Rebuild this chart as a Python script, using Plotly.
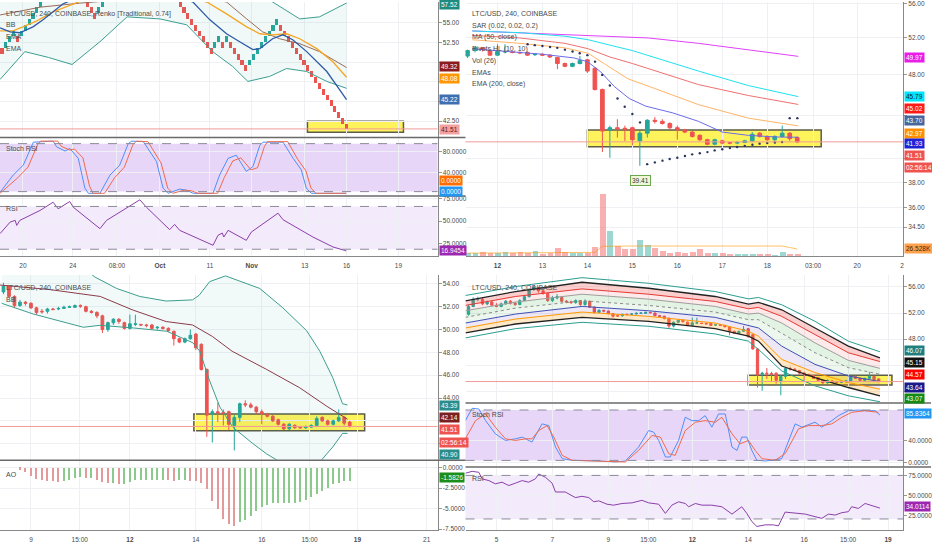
import plotly.graph_objects as go

W, H = 932, 550

# LTC/USD 4h candles (Coinbase), x = day of November
day = [4 + i / 6 for i in range(89)]
opn = [51.8, 53.0, 54.1, 54.1, 53.4, 53.7, 53.2, 53.0, 53.4, 53.8, 53.5, 53.3, 53.9, 54.5, 55.6, 55.9, 55.4, 55.0, 53.9, 54.3, 54.4, 53.8, 53.7, 53.6, 53.9,
       53.3, 53.8, 52.9, 52.1, 52.4, 52.3, 51.9, 51.6, 51.6, 51.8, 51.8, 51.85, 51.95, 51.95, 52.1, 52.0, 51.6, 51.5, 51.2, 50.0, 50.6, 50.9, 50.6, 50.1,
       50.45, 50.45, 50.4, 50.4, 50.15, 50.2, 50.1, 49.85, 49.2, 48.9, 49.2, 49.6, 48.7, 46.5, 42.6, 42.8, 42.75, 42.8, 41.6, 42.3, 43.5, 43.4, 43.2, 42.8,
       42.6, 42.4, 42.1, 41.7, 41.3, 41.6, 41.45, 41.4, 41.45, 41.6, 42.3, 42.0, 41.7, 42.0, 42.3, 41.9]
close = [53.0, 54.1, 54.2, 53.4, 53.7, 53.2, 53.0, 53.4, 53.8, 53.5, 53.3, 53.9, 54.5, 55.6, 55.9, 55.4, 55.0, 53.9, 54.3, 54.5, 53.8, 53.7, 53.6, 53.9, 53.3,
         53.8, 52.9, 52.1, 52.4, 52.3, 51.9, 51.5, 51.55, 51.8, 51.75, 51.85, 51.95, 52.0, 52.1, 52.05, 51.6, 51.5, 51.2, 50.0, 50.6, 50.9, 50.7, 50.1,
         50.5, 50.5, 50.4, 50.35, 50.1, 50.2, 50.1, 49.9, 49.2, 48.9, 49.2, 49.5, 48.4, 46.5, 42.5, 42.8, 42.7, 42.65, 41.7, 42.3, 43.5, 43.4, 43.2, 42.8,
         42.6, 42.4, 42.0, 41.7, 41.3, 41.7, 41.4, 41.4, 41.45, 41.6, 42.2, 42.0, 41.7, 42.0, 42.3, 41.8, 41.51]
high = [53.3, 54.4, 54.5, 54.3, 53.9, 53.9, 53.5, 53.6, 54.0, 54.0, 53.7, 54.1, 54.7, 55.8, 56.3, 56.0, 55.6, 55.1, 54.6, 54.9, 54.6, 54.0, 53.9, 54.1, 54.0,
        54.1, 53.9, 53.0, 52.6, 52.5, 52.4, 52.0, 51.8, 51.9, 51.9, 52.0, 52.1, 52.1, 52.2, 52.2, 52.1, 51.7, 51.6, 51.3, 50.7, 51.0, 51.0, 50.7, 51.3,
        51.3, 50.5, 50.5, 50.5, 50.3, 50.3, 50.2, 49.9, 49.3, 49.3, 50.0, 49.7, 48.8, 46.6, 43.0, 43.6, 43.0, 42.9, 42.5, 43.6, 43.8, 43.6, 43.3, 43.0,
        42.7, 42.5, 42.2, 41.8, 41.8, 41.7, 41.5, 41.6, 41.7, 42.4, 42.4, 42.1, 42.1, 43.0, 42.4, 42.0]
low = [51.6, 52.9, 53.8, 53.2, 53.2, 53.0, 52.9, 52.9, 53.3, 53.3, 53.1, 53.2, 53.8, 54.4, 55.4, 55.1, 54.8, 53.7, 53.7, 54.1, 53.6, 53.5, 53.4, 53.4, 53.1,
       53.1, 52.8, 51.9, 52.0, 52.1, 51.8, 51.3, 51.4, 51.4, 51.7, 51.7, 51.8, 51.9, 51.9, 51.9, 51.5, 51.4, 51.0, 49.7, 49.8, 50.4, 50.5, 50.0, 50.0,
       50.3, 50.3, 50.2, 50.0, 50.0, 50.0, 49.8, 48.6, 48.8, 48.8, 49.1, 48.2, 46.4, 40.6, 40.1, 41.9, 41.6, 41.2, 39.41, 41.9, 43.2, 43.1, 42.6, 41.7,
       42.3, 41.9, 41.6, 41.2, 41.2, 41.3, 41.3, 41.3, 41.4, 41.5, 41.9, 41.6, 41.6, 41.9, 41.6, 41.4]

# volume (K) and its 26-period MA, candles from index 44 on
vol_k = [8, 8, 10, 8, 8, 10, 8, 10, 8, 13, 5, 8, 21, 11, 8, 8, 8, 24, 167, 66, 28, 18, 18, 44, 29, 22, 13, 9, 11, 9, 11, 18, 9, 8, 8, 5, 7, 7, 7, 7,
         5, 4, 11, 7, 5]
vol_ma = [8] * 17 + [10, 26] + [27] * 24 + [23, 19]

# Renko (Traditional, box 0.74): bottom of each brick and its direction
renko_low = [51.06, 51.80, 52.54, 53.28, 52.54, 53.28, 54.02, 54.76, 55.50, 56.24, 56.98,
             57.72, 58.46, 59.20, 59.94, 59.20, 59.94, 60.68, 59.94, 59.20, 58.46, 57.72,
             56.98, 56.24, 55.50, 56.24, 56.98,
             57.72, 58.46, 59.20, 59.94, 60.68, 61.42, 62.16, 61.42, 60.68, 61.42, 62.16, 62.90, 62.16, 61.42, 60.68, 59.94, 59.20, 58.46, 57.72,
             56.98, 56.24, 55.50, 54.76, 54.02, 53.28, 52.54, 51.80, 51.06,
             51.80, 52.54, 51.80, 52.54,
             51.80, 51.06, 50.32, 49.58, 48.84,
             49.58, 50.32, 51.06, 51.80, 52.54, 53.28, 54.02, 54.76,
             54.02, 53.28, 52.54, 51.80, 51.06, 50.32, 49.58, 48.84, 48.10, 47.36, 46.62, 45.88, 45.14, 44.40, 43.66, 42.92, 42.18, 41.44]
renko_dir = list("duuuduuuuuu" "uuuuduudddd" "ddduu" "uuuuuuudduuuddddddd" "ddddddddd" "uudu" "ddddd" "uuuuuuuu" "dddddddddddddddddd")
BOX = 0.74

# Renko panel indicator lines (x = brick number)
tl_blue_x = [-0.5, 2.1, 4.6, 8.0, 10.6, 14.2, 15.7, 30, 49.3, 53.7, 58.0, 61.4, 64.8, 66.6, 69.9, 72.5, 75.1, 78.7, 83.9, 89]
tl_blue_y = [54.37, 53.86, 53.74, 54.49, 55.38, 56.77, 57.4, 60.5, 57.65, 55.38, 53.61, 52.6, 51.59, 51.72, 52.98, 53.48, 52.85, 51.34, 48.81, 45.22]
tl_orange_x = [-0.5, 2.8, 5.4, 9.0, 13.2, 18.3, 32, 52.9, 58.0, 63.2, 66.6, 69.9, 73.5, 76.9, 81.3, 85.4, 89]
tl_orange_y = [53.99, 53.99, 54.49, 55.25, 56.39, 57.4, 60.0, 57.65, 56.14, 54.49, 53.61, 53.48, 53.61, 52.98, 51.72, 50.08, 48.08]
tl_brown_x = [-0.5, 10, 20, 25, 38, 58.0, 63.2, 67.3, 71.7, 76.9, 82.0, 89]
tl_brown_y = [56.0, 57.0, 57.5, 57.7, 59.5, 57.65, 55.5, 53.86, 52.98, 52.35, 51.34, 49.32]
tl_bbu_x = [-0.5, 20, 50, 65, 69.9, 76.9, 82.0, 89]
tl_bbu_y = [58.6, 62.0, 63.0, 59.5, 57.65, 55.5, 55.76, 57.52]
tl_bbl_x = [-0.5, 5.9, 12, 18.1, 25.3, 32.3, 40.8, 47.7, 54.4, 59.6, 63.5, 69.1, 73.5, 78.7, 83.9, 89]
tl_bbl_y = [47.8, 51.34, 50.6, 49.7, 52.6, 55.76, 55.5, 54.75, 51.34, 49.44, 47.55, 48.18, 49.19, 48.81, 47.55, 46.67]

tl_k_x = [-0.5, 2.9, 5.5, 8.1, 13.2, 14.1, 16.3, 17.5, 19.7, 21.4, 22.3, 25.3, 27.9, 30.4, 32.6, 33.5, 36.5, 39.9, 41.6, 42.9, 45.9, 47.6,
          49.4, 54.5, 56.2, 58.4, 60.5, 63.1, 64.8, 66.6, 67.4, 72.6, 75.2, 77.3, 78.6, 79.9, 88.9]
tl_k_y = [2, 35, 54, 98, 100, 89, 81, 86, 67, 10, 0, 0, 35, 54, 95, 100, 99, 61, 10, 0, 8, 6, 0, 0, 35, 67, 73, 42, 51, 92, 98, 98, 67, 45, 10, 0, 0]
tl_d_x = [-0.5, 4.1, 6.7, 9.3, 10.0, 14.4, 15.3, 17.5, 18.7, 20.9, 22.6, 23.5, 26.5, 29.1, 31.6, 33.8, 34.7, 37.7, 41.1, 42.8, 44.1, 47.1,
          48.8, 50.6, 55.7, 57.4, 59.6, 61.7, 64.3, 66.0, 67.8, 68.6, 73.8, 76.4, 78.5, 79.8, 81.1, 88.9]
tl_d_y = [0, 30, 50, 95, 100, 100, 90, 83, 85, 68, 14, 0, 0, 30, 50, 93, 100, 99, 58, 10, 0, 6, 5, 0, 0, 30, 62, 68, 45, 49, 90, 99, 99, 65,
          43, 10, 0, 0]
tl_rsi_x = [-0.5, 2.1, 3.4, 3.8, 4.6, 9.8, 13.2, 14.5, 17.5, 18.4, 25.3, 27.0, 35.6, 37.3, 43.3, 44.6, 45.9, 54.5, 55.8, 56.9, 57.3, 58.4,
            63.1, 64.4, 71.3, 72.6, 80.3, 85.5, 88.9]
tl_rsi_y = [36.1, 48.9, 50.8, 45.2, 50.8, 61.8, 71.0, 63.7, 71.8, 65.5, 41.6, 50.8, 73.7, 65.5, 40.5, 46.3, 39.7, 23.1, 34.2, 36.7, 32.3, 39.7,
            28.6, 37.8, 58.8, 51.5, 32.3, 21.2, 16.9]

# top right overlays
tr_magenta_x = [11.44, 14.02, 15.36, 16.47, 17.58, 18.69]
tr_magenta_y = [52.8, 52.3, 52.0, 51.4, 50.7, 49.97]
tr_cyan_x = [11.44, 12.5, 13.5, 14.02, 14.5, 15.0, 16.47, 17.58, 18.69]
tr_cyan_y = [52.8, 52.6, 52.2, 51.8, 51.2, 50.6, 48.4, 46.9, 45.79]
tr_salmon_x = [11.44, 12.5, 13.5, 14.02, 14.5, 15.0, 16.47, 17.58, 18.69]
tr_salmon_y = [52.3, 52.0, 51.4, 50.8, 49.9, 49.2, 47.0, 45.9, 45.02]
tr_orange_x = [11.44, 12.5, 13.5, 14.02, 14.4, 14.9, 15.5, 16.47, 17.58, 18.69]
tr_orange_y = [51.8, 51.4, 50.9, 50.3, 49.1, 47.6, 46.6, 45.0, 43.7, 42.97]
tr_blue_x = [11.44, 12.0, 13.0, 13.7, 14.0, 14.3, 14.6, 14.93, 15.3, 15.9, 16.47, 17.0, 17.58, 18.2, 18.69]
tr_blue_y = [50.8, 50.6, 50.2, 49.8, 49.4, 48.3, 46.8, 45.6, 44.85, 44.2, 43.4, 42.4, 42.1, 41.95, 41.93]
sar_day = [12.67, 12.83, 13.0, 13.17, 13.33, 13.5, 13.67, 13.83, 14.0, 14.17, 14.33, 14.5, 14.67, 14.83, 15.0, 15.17, 15.33, 15.5, 15.67,
           15.83, 16.0, 16.17, 16.33, 16.5, 16.67, 16.83, 17.0, 17.17, 17.33, 17.5, 17.67, 17.83, 18.0, 18.17, 18.33, 18.5, 18.67]
sar_val = [51.3, 51.2, 51.1, 51.0, 50.9, 50.7, 50.5, 50.3, 50.1, 49.4, 48.0, 46.9, 45.6, 44.8, 44.1, 43.3, 39.55, 39.7, 39.85, 40.0, 40.1,
           40.25, 40.4, 40.5, 40.6, 40.75, 40.85, 40.95, 41.05, 41.15, 41.25, 41.35, 41.4, 41.45, 41.5, 43.7, 43.7]

# bottom left: Bollinger Bands and AO
bl_up_x = [8.1, 10.5, 10.94, 11.6, 12.3, 13.1, 13.9, 14.1, 14.42, 14.9, 15.94, 16.64, 17.36, 17.76, 18.15, 18.45, 18.6]
bl_up_y = [57.5, 55.6, 54.6, 53.6, 52.9, 52.5, 52.6, 53.0, 54.2, 54.7, 53.6, 51.9, 49.9, 48.1, 45.8, 43.5, 43.39]
bl_mid_x = [8.06, 9.58, 11.1, 12.1, 13.1, 13.9, 14.5, 15.1, 16.15, 17.15, 17.96, 18.6]
bl_mid_y = [53.9, 53.5, 52.9, 51.7, 50.7, 50.4, 49.4, 48.1, 46.5, 44.9, 43.3, 42.14]
bl_lo_x = [8.11, 9.07, 10.59, 11.09, 12.1, 13.12, 13.91, 14.12, 14.42, 14.73, 15.12, 15.73, 16.15, 16.55, 17.76, 18.15, 18.45, 18.6]
bl_lo_y = [52.3, 51.36, 50.2, 50.37, 50.14, 49.85, 48.84, 48.1, 45.5, 43.2, 41.45, 40.0, 39.1, 38.4, 38.4, 39.7, 40.9, 40.9]
ao = [-0.24, -0.52, -1.03, -1.31, -1.43, -1.55, -1.63, -1.71, -1.55, -1.43, -1.23, -1.15, -1.23, -1.23, -1.43, -1.71, -1.83, -1.83, -1.94,
      -1.94, -1.71, -1.51, -1.43, -1.43, -1.43, -1.43, -1.43, -1.51, -1.55, -1.43, -1.43, -1.55, -1.63, -1.83, -2.62, -4.01, -5.0, -6.19,
      -6.87, -7.06, -6.59, -6.31, -5.91, -5.28, -4.72, -4.48, -4.33, -4.33, -4.33, -4.33, -4.25, -4.13, -3.93, -3.53, -3.21, -2.82, -2.42,
      -2.02, -1.83, -1.63, -1.58]

# bottom right: band lines
br_x = [3.89, 5.68, 8.06, 10.44, 12.82, 14.01, 14.37, 15.2, 16.39, 17.58, 18.71]
br_teal_up = [54.68, 56.05, 57.41, 56.55, 55.29, 54.17, 54.38, 53.26, 50.73, 47.69, 46.07]
br_black_up = [53.87, 55.29, 56.71, 55.79, 54.53, 53.36, 53.62, 52.5, 49.71, 46.93, 45.15]
br_red = [53.16, 54.53, 55.69, 54.88, 53.77, 52.65, 52.86, 51.49, 48.7, 45.92, 44.57]
br_gray = [52.35, 53.67, 54.88, 54.12, 53.01, 51.84, 51.99, 50.47, 47.43, 44.75, 43.53]
br_mid = [51.34, 52.75, 53.87, 53.16, 52.15, 50.98, 50.98, 48.95, 45.92, 43.64, 42.62]
br_blue = [50.47, 51.84, 53.01, 52.35, 51.34, 50.12, 49.71, 46.93, 44.14, 42.37, 41.51]
br_orange = [49.71, 51.08, 52.15, 51.49, 50.47, 49.21, 48.45, 44.9, 42.88, 41.36, 40.34]
br_black_lo = [48.95, 50.32, 51.34, 50.73, 49.61, 48.45, 47.69, 43.89, 42.12, 40.6, 39.33]
br_teal_lo = [48.19, 49.61, 50.58, 49.97, 48.8, 47.69, 46.42, 43.13, 40.85, 39.33, 38.42]

br_k_x = [3.89, 4.13, 4.37, 4.61, 4.96, 5.32, 5.68, 5.92, 6.27, 6.45, 6.63, 6.87, 7.11, 7.35, 7.70, 8.65, 9.25, 9.61, 10.08, 10.44, 10.62,
          10.80, 11.04, 11.21, 11.51, 11.75, 11.99, 12.23, 12.46, 12.70, 12.94, 13.18, 13.42, 13.60, 13.77, 13.95, 14.13, 14.31, 14.61,
          14.85, 15.20, 15.68, 15.92, 16.39, 16.63, 16.99, 17.23, 17.58, 17.94, 18.18, 18.54, 18.71]
br_k_y = [75.8, 98, 96.8, 75.8, 52, 40, 43, 46, 37.1, 55, 69.9, 66.8, 28.1, 7.2, 4.1, 3, 1.2, 3, 28.1, 57.9, 55, 40, 10.2, 10.2, 40, 81.9,
          75.8, 75.8, 84.8, 64, 87.8, 87.8, 28.1, 22, 46, 46, 22, 4.1, 3, 4.1, 7.2, 69.9, 64, 72.9, 64, 75.8, 84.8, 93.7, 95, 93.7, 93.7, 85.8]
br_d_x = [3.89, 4.25, 4.61, 4.96, 5.32, 5.68, 6.04, 6.27, 6.51, 6.81, 7.05, 7.35, 7.70, 9.61, 10.08, 10.56, 10.86, 11.16, 11.39, 11.75,
          12.11, 12.46, 12.82, 13.06, 13.42, 13.71, 14.01, 14.25, 14.49, 14.96, 15.32, 15.80, 16.15, 16.63, 16.99, 17.35, 17.70, 18.18, 18.65]
br_d_y = [43, 75.8, 87.8, 64, 43, 40, 43, 43, 57.9, 66.8, 46, 13.1, 4.1, 1.2, 22, 49, 46, 16.1, 13.1, 57.9, 72.9, 75.8, 72.9, 81.9, 52, 34,
          40, 22, 7.2, 4.1, 16.1, 60.9, 66.8, 66.8, 69.9, 81.9, 90.8, 93.7, 90.8]
br_rsi_x = [3.89, 4.13, 4.37, 4.49, 4.73, 4.96, 5.20, 5.44, 5.68, 5.92, 6.15, 6.39, 6.51, 6.75, 6.99, 7.11, 7.46, 7.58, 7.82, 8.06, 8.30,
            8.48, 8.66, 8.95, 9.19, 9.49, 9.85, 10.2, 10.44, 10.80, 11.04, 11.27, 11.51, 11.75, 11.87, 12.11, 12.35, 12.70, 13.06, 13.42,
            13.77, 13.95, 14.13, 14.31, 14.61, 14.90, 15.08, 15.32, 15.56, 15.80, 16.04, 16.39, 16.63, 16.87, 17.11, 17.35, 17.58, 17.70,
            17.94, 18.18, 18.54, 18.71]
br_rsi_y = [77.7, 80.1, 78.9, 70.6, 68.5, 64.4, 66.5, 62.3, 65.3, 68.5, 66.5, 70.6, 76.8, 72.7, 65.3, 54.2, 54.2, 52.1, 47.2, 48.8, 47.2,
            41.9, 43.1, 38.9, 37.7, 39.8, 40.6, 43.8, 40.6, 38.9, 27.4, 37.7, 41.9, 39.8, 35.7, 39.8, 37.7, 37.7, 35.7, 26.5, 35.7, 27.4,
            17.2, 11.0, 13.0, 13.0, 11.7, 29.0, 28.3, 27.4, 26.5, 23.3, 21.2, 26.5, 25.3, 28.3, 29.5, 35.7, 33.6, 39.8, 36.4, 34.0]

GREEN, RED = "#26a69a", "#ef5350"
GRID = "#eef0f3"
FONT = "Liberation Sans"
TICKFONT = dict(family=FONT, size=6.5, color="#4a4a4a")


def py(p):
    return 1 - p / H


fig = go.Figure()


def line(x, y, ax, color, width=1, **kw):
    fig.add_trace(go.Scatter(x=x, y=y, mode="lines", line=dict(color=color, width=width), xaxis=ax[0], yaxis=ax[1],
                             hoverinfo="skip", **kw))


def candles(ax):
    fig.add_trace(go.Candlestick(x=day, open=opn, high=high, low=low, close=close, xaxis=ax[0], yaxis=ax[1], whiskerwidth=0,
                                 increasing=dict(line=dict(color=GREEN, width=1), fillcolor=GREEN),
                                 decreasing=dict(line=dict(color=RED, width=1), fillcolor=RED), hoverinfo="skip"))


# ---- top left: Renko
TL, TLS, TLR = ("x", "y"), ("x2", "y2"), ("x3", "y3")
line(tl_bbu_x, tl_bbu_y, TL, "#3a9e90")
line(tl_bbl_x, tl_bbl_y, TL, "#3a9e90", fill="tonexty", fillcolor="rgba(38,166,154,0.07)")
fig.add_trace(go.Bar(x=list(range(len(renko_low))), y=[BOX] * len(renko_low), base=renko_low, width=0.8,
                     marker=dict(color=[GREEN if d == "u" else RED for d in renko_dir], line_width=0),
                     xaxis="x", yaxis="y", hoverinfo="skip"))
line(tl_brown_x, tl_brown_y, TL, "#9a6a5a")
line(tl_orange_x, tl_orange_y, TL, "#f5a623", 1.3)
line(tl_blue_x, tl_blue_y, TL, "#2f5aa8", 1.3)
line(tl_k_x, tl_k_y, TLS, "#4f8ff7")
line(tl_d_x, tl_d_y, TLS, "#f06a4a")
line(tl_rsi_x, tl_rsi_y, TLR, "#8b3fa8")

# ---- top right: candles, EMAs, SAR, volume
TR = ("x4", "y4")
fig.add_trace(go.Bar(x=day[44:], y=vol_k, width=0.13, xaxis="x4", yaxis="y10", hoverinfo="skip",
                     marker=dict(color=["rgba(38,166,154,0.45)" if c >= o else "rgba(239,83,80,0.45)"
                                        for o, c in zip(opn[44:], close[44:])], line_width=0)))
line(day[44:], vol_ma, ("x4", "y10"), "rgba(255,152,0,0.6)")
line(tr_magenta_x, tr_magenta_y, TR, "#e040fb")
line(tr_cyan_x, tr_cyan_y, TR, "#1fe0f0")
line(tr_salmon_x, tr_salmon_y, TR, "#f07070")
line(tr_orange_x, tr_orange_y, TR, "#ffb466")
line(tr_blue_x, tr_blue_y, TR, "#6b6bea")
candles(TR)
fig.add_trace(go.Scatter(x=sar_day, y=sar_val, mode="markers", marker=dict(size=2.4, color="#2a3560"),
                         xaxis="x4", yaxis="y4", hoverinfo="skip"))

# ---- bottom left: BB + AO
BL, BLA = ("x5", "y5"), ("x6", "y6")
line(bl_up_x, bl_up_y, BL, "#3c9e8e")
line(bl_lo_x, bl_lo_y, BL, "#3c9e8e", fill="tonexty", fillcolor="rgba(38,166,154,0.06)")
line(bl_mid_x, bl_mid_y, BL, "#8b3a4a")
candles(BL)
fig.add_trace(go.Bar(x=day[28:], y=ao, width=0.035, xaxis="x6", yaxis="y6", hoverinfo="skip",
                     marker=dict(color=["#8cc98c" if i > 0 and v >= ao[i - 1] else "#e49a9a" for i, v in enumerate(ao)],
                                 line_width=0)))

# ---- bottom right: bands + Stoch RSI + RSI
BR, BRS, BRR = ("x7", "y7"), ("x8", "y8"), ("x9", "y9")
line(br_x, br_black_up, BR, "#222222", 1.3)
line(br_x, br_red, BR, "#e53935", 1, fill="tonexty", fillcolor="rgba(239,83,80,0.28)")
line(br_x, br_gray, BR, "#9e9e9e", 1, fill="tonexty", fillcolor="rgba(239,83,80,0.12)")
line(br_x, br_mid, BR, "rgba(0,0,0,0)", 1, fill="tonexty", fillcolor="rgba(76,175,80,0.16)")
line(br_x, br_blue, BR, "#3f51b5", 1, fill="tonexty", fillcolor="rgba(76,175,80,0.10)")
line(br_x, br_orange, BR, "#ff9800", 1, fill="tonexty", fillcolor="rgba(103,58,183,0.12)")
line(br_x, br_black_lo, BR, "#222222", 1.3, fill="tonexty", fillcolor="rgba(255,152,0,0.22)")
line(br_x, br_teal_up, BR, "#2a9d8f")
line(br_x, br_teal_lo, BR, "#2a9d8f")
fig.add_trace(go.Scatter(x=br_x, y=br_mid, mode="lines", line=dict(color="#8a8a8a", width=1, dash="dot"),
                         xaxis="x7", yaxis="y7", hoverinfo="skip"))
candles(BR)
line(br_k_x, br_k_y, BRS, "#4f8ff7")
line(br_d_x, br_d_y, BRS, "#f06a4a")
line(br_rsi_x, br_rsi_y, BRR, "#8b3fa8")

# ---- axes
LX, RX = [0, 438 / W], [466 / W, 904 / W]


def xax(domain, anchor, rng, vals, text, labels):
    return dict(domain=domain, anchor=anchor, range=rng, tickmode="array", tickvals=vals, ticktext=text,
                showticklabels=labels, showgrid=True, gridcolor=GRID, zeroline=False, ticks="outside" if labels else "",
                ticklen=3, tickcolor="rgba(0,0,0,0)", tickfont=TICKFONT, showline=labels, linecolor="#888",
                rangeslider=dict(visible=False), fixedrange=True)


def yax(domain, anchor, rng, vals, text, typ="linear", grid=True):
    return dict(domain=domain, anchor=anchor, side="right", range=rng, type=typ, tickmode="array", tickvals=vals,
                ticktext=text, showgrid=grid, gridcolor=GRID, zeroline=False, ticks="outside", ticklen=3,
                tickcolor="#999", tickfont=TICKFONT, showline=True, linecolor="#888", fixedrange=True)


tl_tv = [5.4, 18.3, 29.7, 40.8, 53.7, 64.5, 78.2, 89.0, 102.4]
tl_tt = ["20", "24", "08:00", "<b>Oct</b>", "11", "<b>Nov</b>", "13", "16", "19"]
tr_tv = [12, 13, 14, 15, 16, 17, 18, 19.02, 20, 21]
tr_tt = ["<b>12</b>", "13", "14", "15", "16", "17", "18", "03:00", "20", "2"]
bl_tv = [9, 10.48, 12, 14, 16, 17.45, 18.9, 21]
bl_tt = ["9", "15:00", "<b>12</b>", "14", "16", "15:00", "<b>19</b>", "21"]
br_tv = [5, 7, 9, 10.43, 12, 14, 16, 17.57, 19]
br_tt = ["5", "7", "9", "15:00", "<b>12</b>", "14", "16", "15:00", "<b>19</b>"]

tl_rng, tr_rng, bl_rng, br_rng = [-0.52, 112.5], [11.289, 21.02], [8.061, 21.33], [3.893, 19.536]

# tick labels that sit under a value tag keep their grid line but no text
fig.update_layout(
    xaxis=xax(LX, "y", tl_rng, tl_tv, tl_tt, False),
    xaxis2=xax(LX, "y2", tl_rng, tl_tv, tl_tt, False),
    xaxis3=xax(LX, "y3", tl_rng, tl_tv, tl_tt, True),
    xaxis4=xax(RX, "y4", tr_rng, tr_tv, tr_tt, True),
    xaxis5=xax(LX, "y5", bl_rng, bl_tv, bl_tt, False),
    xaxis6=xax(LX, "y6", bl_rng, bl_tv, bl_tt, True),
    xaxis7=xax(RX, "y7", br_rng, br_tv, br_tt, False),
    xaxis8=xax(RX, "y8", br_rng, br_tv, br_tt, False),
    xaxis9=xax(RX, "y9", br_rng, br_tv, br_tt, True),
    yaxis=yax([py(136), 1], "x", [40.48, 57.65], [55, 52.5, 50, 47.5, 45, 42.5],
              ["55.00", "52.50", "", "", "", "42.50"]),
    yaxis2=yax([py(195), py(137)], "x2", [-4.4, 106], [80, 40], ["80.0000", "40.0000"]),
    yaxis3=yax([py(256), py(196)], "x3", [11.0, 77.3], [75, 50, 25], ["75.0000", "50.0000", "25.0000"]),
    yaxis4=yax([py(256), 1], "x4", [1.5105, 1.7499], [56, 52, 48, 44, 40, 38, 36, 34.5],
               ["56.00", "52.00", "48.00", "", "", "38.00", "36.00", "34.50"], typ="log"),
    yaxis10=dict(overlaying="y4", anchor="x4", range=[0, 678], visible=False, fixedrange=True),
    yaxis5=yax([py(461), py(275)], "x5", [38.6, 54.78], [54, 52, 50, 48, 46, 44, 42, 40],
               ["54.00", "52.00", "50.00", "48.00", "46.00", "44.00", "", ""]),
    yaxis6=yax([py(532), py(462)], "x6", [-7.62, 0.83], [0, -2.5, -5, -7.5], ["0.0000", "-2.5000", "-5.0000", "-7.5000"]),
    yaxis7=yax([py(403), py(275)], "x7", [38.37, 57.82], [56, 52, 48, 44, 40], ["56.00", "52.00", "48.00", "", ""]),
    yaxis8=yax([py(468), py(405)], "x8", [-7.2, 105.7], [40, 0], ["40.0000", "0.0000"]),
    yaxis9=yax([py(532), py(469)], "x9", [6.4, 84.8], [75, 50, 25], ["75.0000", "50.0000", "25.0000"]),
)

# ---- shapes: oscillator bands, current price lines, highlight boxes, separators
shapes = []


def band(xa, ya, lo, hi, fill):
    shapes.append(dict(type="rect", xref=xa + " domain", yref=ya, x0=0, x1=1, y0=lo, y1=hi, fillcolor=fill,
                       line=dict(width=0), layer="below"))
    for v in (lo, hi):
        shapes.append(dict(type="line", xref=xa + " domain", yref=ya, x0=0, x1=1, y0=v, y1=v,
                           line=dict(color="#8a8a9a", width=1, dash="dash")))


band("x2", "y2", 3.2, 95.2, "#e8d6f8")
band("x3", "y3", 18.7, 66.3, "#f3eafc")
band("x8", "y8", 4, 95, "#e8d6f8")
band("x9", "y9", 20.4, 75, "#f3eafc")

for xa, ya in (("x", "y"), ("x4", "y4"), ("x5", "y5"), ("x7", "y7")):
    shapes.append(dict(type="line", xref=xa + " domain", yref=ya, x0=0, x1=1, y0=close[-1], y1=close[-1],
                       line=dict(color="#f29a9a", width=1)))

for xa, ya, x0, x1, y0, y1 in (("x", "y", 78.9, 103.7, 41.1, 42.5), ("x4", "y4", 14.0, 19.2, 41.07, 42.6),
                               ("x5", "y5", 13.94, 19.12, 41.13, 42.6), ("x7", "y7", 14.0, 19.14, 41.0, 42.47)):
    shapes.append(dict(type="rect", xref=xa, yref=ya, x0=x0, x1=x1, y0=y0, y1=y1, fillcolor="#fff35c",
                       line=dict(color="#5c5c48", width=1.5), layer="below"))

for x0, x1, yp in ((0, 466, 136.5), (0, 466, 195.5), (0, 466, 461.5), (466, 932, 404), (466, 932, 468.5)):
    shapes.append(dict(type="line", xref="paper", yref="paper", x0=x0 / W, x1=x1 / W, y0=py(yp), y1=py(yp),
                       line=dict(color="#6a6a6a", width=1.5)))

# ---- annotations: legends, value tags
ann = []


def text(px, pyy, s, size=7, color="#4a4a4a"):
    ann.append(dict(xref="paper", yref="paper", x=px / W, y=py(pyy), text=s, showarrow=False, xanchor="left",
                    yanchor="middle", font=dict(family=FONT, size=size, color=color)))


def tag(px, pyy, s, bg, fg="white"):
    ann.append(dict(xref="paper", yref="paper", x=px / W, y=py(pyy), text=s, showarrow=False, xanchor="left",
                    yanchor="middle", bgcolor=bg, borderpad=1, font=dict(family=FONT, size=6.5, color=fg)))


text(4, 12, "LTC/USD, 240, COINBASE, Renko [Traditional, 0.74]")
text(4, 23, "BB")
text(4, 35, "EMA")
text(4, 47, "EMA")
text(4, 148, "Stoch RSI")
text(4, 208, "RSI")
for i, s in enumerate(["LTC/USD, 240, COINBASE", "SAR (0.02, 0.02, 0.2)", "MA (50, close)", "Pivots HL (10, 10)",
                       "Vol (26)", "EMAs", "EMA (200, close)"]):
    text(471, 12 + 11.8 * i, s)
text(4, 288, "LTC/USD, 240, COINBASE")
text(4, 300, "BB")
text(4, 476, "AO")
text(471, 288, "LTC/USD, 240, COINBASE")
text(471, 416, "Stoch RSI")
text(471, 480, "RSI")

for px, pyy, s, bg, fg in [
    (439, 3, "57.52", "#1f8a80", "white"), (439, 65, "49.32", "#8e1b1b", "white"), (439, 77, "48.08", "#ff9800", "white"),
    (439, 98, "45.22", "#3f6fae", "white"), (439, 128, "41.51", "#f3a0a0", "#5a1a1a"),
    (439, 180, "0.0000", "#ff6d00", "white"), (439, 191, "0.0000", "#2196f3", "white"),
    (439, 250, "16.9454", "#9c27b0", "white"),
    (905, 56, "49.97", "#e91ee9", "white"), (905, 95, "45.79", "#00e5ff", "#1a1a1a"), (905, 107, "45.02", "#ff1a1a", "white"),
    (905, 119, "43.70", "#46669e", "white"), (905, 132, "42.97", "#ff8f00", "white"), (905, 143, "41.93", "#1e22d6", "white"),
    (905, 155, "41.51", "#ef5350", "white"), (905, 167, "02:56:14", "#ef5350", "white"),
    (905, 248, "26.528K", "#ffa04a", "#3a2a10"),
    (439, 406, "43.39", "#2b8c8c", "white"), (439, 419, "42.14", "#7b1f1f", "white"), (439, 431, "41.51", "#ef5350", "white"),
    (439, 444, "02:56:14", "#ef5350", "white"), (439, 456, "40.90", "#2b8c8c", "white"),
    (439, 479, "-1.5826", "#1b8e1b", "white"),
    (905, 351, "46.07", "#1f7f7f", "white"), (905, 363, "45.15", "#111111", "white"), (905, 375, "44.57", "#ff0000", "white"),
    (905, 388, "43.64", "#1a1a8c", "white"), (905, 399, "43.07", "#138a13", "white"),
    (905, 415, "85.8364", "#2196f3", "white"), (905, 508, "34.0114", "#9c27b0", "white"),
]:
    tag(px, pyy, s, bg, fg)

ann.append(dict(xref="x4", yref="paper", x=15.17, y=py(174), text="39.41", showarrow=False, bgcolor="#f0f6d8",
                bordercolor="#6aa84f", borderwidth=1, borderpad=1, font=dict(family=FONT, size=6.5, color="#333")))

fig.update_layout(width=W, height=H, margin=dict(l=0, r=0, t=0, b=0), paper_bgcolor="white", plot_bgcolor="white",
                  showlegend=False, bargap=0, shapes=shapes, annotations=ann, font=dict(family=FONT))

# the page body has a default 8px margin; drop it so the chart fills the window like the screenshot
fig.write_html("out.html", config={"displayModeBar": False},
               post_script="document.body.style.margin='0';document.body.style.overflow='hidden';")
